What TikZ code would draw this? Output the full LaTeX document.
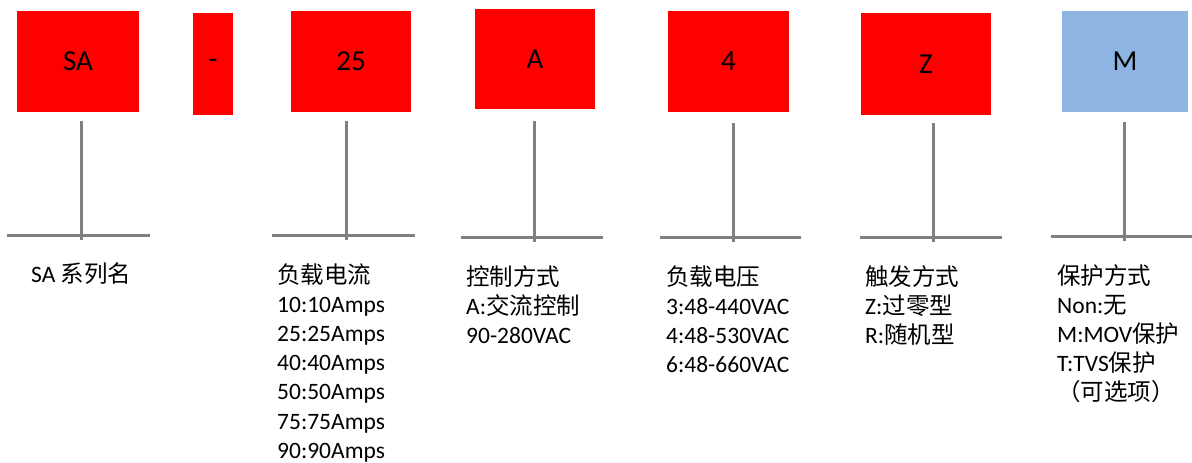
\documentclass[tikz,border=0pt]{standalone}
\usepackage{fontspec}
\setmainfont{Carlito}
\newfontfamily\cjk{Noto Sans CJK SC}

\definecolor{protblue}{HTML}{8DB4E2}

\tikzset{
  codebox/.style={inner sep=0pt, font=\fontsize{29}{35}\selectfont},
  stem/.style={draw=gray, line width=3pt},
  legend/.style={anchor=base west, inner sep=0pt, align=left,
                 font=\fontsize{23.5}{29.1}\selectfont},
}

\begin{document}
\begin{tikzpicture}[x=1pt, y=-1pt]
  \useasboundingbox (0,0) rectangle (1192,463);

  % code letters
  \foreach \n/\cx/\cy/\w/\h/\col/\t in {%
      sa/78/61.5/122/101/red/SA,
      sep/213/64/40/102/red/-,
      amp/351/61.5/120/101/red/25,
      ctl/535/59/120/100/red/A,
      volt/728.5/61.5/121/101/red/4,
      trig/926/64/130/102/red/Z,
      prot/1125/61.5/126/101/protblue/M}
    \node[codebox, fill=\col, minimum width=\w pt, minimum height=\h pt] (\n) at (\cx, \cy) {\t};

  % stems
  \foreach \n/\sx/\ya/\yb/\xl/\xr/\yh in {%
      sa/81/121/240/7/150/235,
      amp/346/121/240/272/415/235,
      ctl/534/121/242/461/603/237,
      volt/733/123/242/660/801/237,
      trig/933/123/242/860/1002/237,
      prot/1124/122/241/1051/1192/236} {
    \coordinate (\n-top) at (\sx, \ya);
    \coordinate (\n-foot) at (\sx, \yb);
    \coordinate (\n-left) at (\xl, \yh);
    \coordinate (\n-right) at (\xr, \yh);
    \draw[stem] (\n-top) -- (\n-foot);
    \draw[stem] (\n-left) -- (\n-right);
  }

  % meanings (anchored at the last line)
  \node[legend] (sa-txt) at (31, 282) {SA \cjk{系列名}};
  \node[legend] (amp-txt) at (277, 458.1)
    {\cjk{负载电流}\\10:10Amps\\25:25Amps\\40:40Amps\\50:50Amps\\75:75Amps\\90:90Amps};
  \node[legend] (ctl-txt) at (466, 343.7)
    {\cjk{控制方式}\\A:\cjk{交流控制}\\90-280VAC};
  \node[legend] (volt-txt) at (666, 372.3)
    {\cjk{负载电压}\\3:48-440VAC\\4:48-530VAC\\6:48-660VAC};
  \node[legend] (trig-txt) at (865, 343.7)
    {\cjk{触发方式}\\Z:\cjk{过零型}\\R:\cjk{随机型}};
  \node[legend] (prot-txt) at (1057, 400.9)
    {\cjk{保护方式}\\Non:\cjk{无}\\M:MOV\cjk{保护}\\T:TVS\cjk{保护}\\\cjk{（可选项）}};
\end{tikzpicture}
\end{document}
